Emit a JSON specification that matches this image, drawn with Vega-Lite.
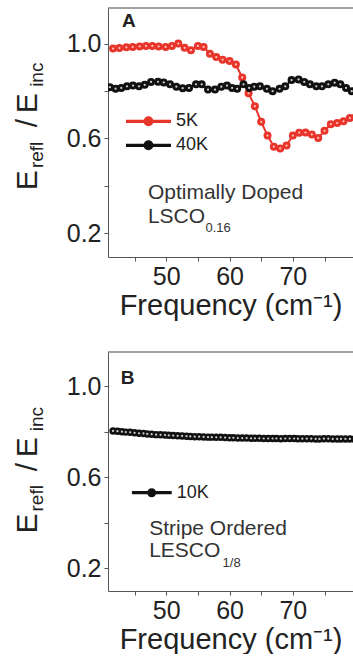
{
  "$schema": "https://vega.github.io/schema/vega-lite/v6.json",
  "padding": {"left": 13, "top": 7, "right": 0, "bottom": 0},
  "background": "white",
  "spacing": 31,
  "config": {
    "view": {"stroke": null},
    "font": "Liberation Sans",
    "axis": {
      "grid": false, "tickSize": 4, "tickColor": "#555", "domainColor": "#555",
      "labelColor": "#222", "labelFont": "Liberation Sans", "labelFontSize": 25,
      "labelPadding": 3, "labelFlush": false, "labelOverlap": false,
      "titleFont": "Liberation Sans", "titleFontSize": 29, "titleFontWeight": "normal", "titleColor": "#222"
    },
    "legend": {"labelFont": "Liberation Sans", "labelColor": "#222", "labelFontSize": 18, "padding": 0}
  },
  "resolve": {"scale": {"color": "independent"}, "legend": {"color": "independent"}},
  "vconcat": [
    {
      "width": 245, "height": 249,
      "layer": [
        {
          "data": {"name": "A"},
          "mark": {"type": "line", "strokeWidth": 2, "clip": true},
          "encoding": {
            "x": {"field": "f", "type": "quantitative", "scale": {"domain": [40.8, 79.5], "nice": false, "zero": false},
                  "axis": {"values": [45, 50, 55, 60, 65, 70, 75], "labelExpr": "datum.value % 10 == 0 ? datum.label : ''", "title": "Frequency (cm⁻¹)", "titlePadding": 2}},
            "y": {"field": "v", "type": "quantitative", "scale": {"domain": [0.1, 1.15], "nice": false, "zero": false},
                  "axis": {"values": [0.2, 0.3, 0.4, 0.5, 0.6, 0.7, 0.8, 0.9, 1.0, 1.1], "labelExpr": "indexof(['0.2','0.6','1.0'], format(datum.value, '.1f')) >= 0 ? format(datum.value, '.1f') : ''", "title": null}},
            "detail": {"field": "T"},
            "stroke": {"condition": {"test": "datum.T == '5K'", "value": "#e8352b"}, "value": "#111111"}
          }
        },
        {
          "data": {"name": "A"},
          "mark": {"type": "point", "filled": true, "size": 64, "opacity": 1, "clip": true},
          "encoding": {
            "x": {"field": "f", "type": "quantitative"},
            "y": {"field": "v", "type": "quantitative"},
            "color": {"field": "T", "type": "nominal", "scale": {"domain": ["5K", "40K"], "range": ["#e8352b", "#111111"]},
              "legend": {"title": null, "orient": "none", "legendX": 18, "legendY": 101.3, "rowPadding": 0, "clipHeight": 24, "labelOffset": 5,
                "symbolType": "M-1,-0.07H1V0.07H-1Z M0.22,0A0.22,0.22,0,1,1,-0.22,0A0.22,0.22,0,1,1,0.22,0Z",
                "symbolSize": 2025, "symbolStrokeWidth": 0,
                "encode": {"symbols": {"update": {"shape": {"value": "M-1,-0.07H1V0.07H-1Z M0.22,0A0.22,0.22,0,1,1,-0.22,0A0.22,0.22,0,1,1,0.22,0Z"}, "size": {"value": 2025}, "strokeWidth": {"value": 0}}}}}}
          }
        },
        {
          "data": {"name": "A"},
          "mark": {"type": "point", "filled": true, "size": 5, "opacity": 1, "clip": true},
          "encoding": {
            "x": {"field": "f", "type": "quantitative"},
            "y": {"field": "v", "type": "quantitative"},
            "fill": {"condition": {"test": "datum.T == '5K'", "value": "#ffc2ba"}, "value": "#cfcfcf"}
          }
        },
        {"data": {"values": [{}]}, "mark": {"type": "rule", "color": "#444", "strokeWidth": 1},
         "encoding": {"x": {"datum": 40.8, "type": "quantitative"}, "x2": {"datum": 79.5}, "y": {"datum": 1.15, "type": "quantitative"}}},
        {"data": {"values": [{}]}, "mark": {"type": "text", "text": "A", "align": "left", "baseline": "alphabetic", "fontSize": 19, "fontWeight": "bold", "color": "#222"},
         "encoding": {"x": {"datum": 43.0, "type": "quantitative"}, "y": {"datum": 1.07, "type": "quantitative"}}},
        {"data": {"values": [{}]}, "mark": {"type": "text", "text": "Optimally Doped", "align": "left", "baseline": "alphabetic", "fontSize": 21, "color": "#333"},
         "encoding": {"x": {"datum": 47.1, "type": "quantitative"}, "y": {"datum": 0.344, "type": "quantitative"}}},
        {"data": {"values": [{}]}, "mark": {"type": "text", "text": "LSCO", "align": "left", "baseline": "alphabetic", "fontSize": 21, "color": "#333"},
         "encoding": {"x": {"datum": 47.1, "type": "quantitative"}, "y": {"datum": 0.242, "type": "quantitative"}}},
        {"data": {"values": [{}]}, "mark": {"type": "text", "text": "0.16", "align": "left", "baseline": "alphabetic", "fontSize": 13, "color": "#333"},
         "encoding": {"x": {"datum": 56.2, "type": "quantitative"}, "y": {"datum": 0.206, "type": "quantitative"}}},
        {"data": {"values": [{}]}, "mark": {"type": "text", "text": "E", "align": "left", "baseline": "alphabetic", "angle": 270, "fontSize": 30, "color": "#222"},
         "encoding": {"x": {"datum": 29.6, "type": "quantitative"}, "y": {"datum": 0.382, "type": "quantitative"}}},
        {"data": {"values": [{}]}, "mark": {"type": "text", "text": "refl", "align": "left", "baseline": "alphabetic", "angle": 270, "fontSize": 19, "color": "#222"},
         "encoding": {"x": {"datum": 30.5, "type": "quantitative"}, "y": {"datum": 0.475, "type": "quantitative"}}},
        {"data": {"values": [{}]}, "mark": {"type": "text", "text": "/", "align": "left", "baseline": "alphabetic", "angle": 270, "fontSize": 30, "color": "#222"},
         "encoding": {"x": {"datum": 29.6, "type": "quantitative"}, "y": {"datum": 0.647, "type": "quantitative"}}},
        {"data": {"values": [{}]}, "mark": {"type": "text", "text": "E", "align": "left", "baseline": "alphabetic", "angle": 270, "fontSize": 30, "color": "#222"},
         "encoding": {"x": {"datum": 29.6, "type": "quantitative"}, "y": {"datum": 0.706, "type": "quantitative"}}},
        {"data": {"values": [{}]}, "mark": {"type": "text", "text": "inc", "align": "left", "baseline": "alphabetic", "angle": 270, "fontSize": 19, "color": "#222"},
         "encoding": {"x": {"datum": 30.5, "type": "quantitative"}, "y": {"datum": 0.8175, "type": "quantitative"}}}
      ]
    },
    {
      "width": 245, "height": 239,
      "layer": [
        {
          "data": {"name": "B"},
          "mark": {"type": "line", "strokeWidth": 2, "clip": true, "color": "#111111"},
          "encoding": {
            "x": {"field": "f", "type": "quantitative", "scale": {"domain": [40.8, 79.5], "nice": false, "zero": false},
                  "axis": {"values": [45, 50, 55, 60, 65, 70, 75], "labelExpr": "datum.value % 10 == 0 ? datum.label : ''", "title": "Frequency (cm⁻¹)", "titlePadding": 2}},
            "y": {"field": "v", "type": "quantitative", "scale": {"domain": [0.1, 1.15], "nice": false, "zero": false},
                  "axis": {"values": [0.2, 0.3, 0.4, 0.5, 0.6, 0.7, 0.8, 0.9, 1.0, 1.1], "labelExpr": "indexof(['0.2','0.6','1.0'], format(datum.value, '.1f')) >= 0 ? format(datum.value, '.1f') : ''", "title": null}}
          }
        },
        {
          "data": {"name": "B"},
          "mark": {"type": "point", "filled": true, "size": 56, "opacity": 1, "clip": true},
          "encoding": {
            "x": {"field": "f", "type": "quantitative"},
            "y": {"field": "v", "type": "quantitative"},
            "color": {"field": "T", "type": "nominal", "scale": {"domain": ["10K"], "range": ["#111111"]},
              "legend": {"title": null, "orient": "none", "legendX": 23.7, "legendY": 128.7, "rowPadding": 0, "clipHeight": 24, "labelOffset": 5,
                "symbolType": "M-1,-0.08H1V0.08H-1Z M0.225,0A0.225,0.225,0,1,1,-0.225,0A0.225,0.225,0,1,1,0.225,0Z",
                "symbolSize": 1600, "symbolStrokeWidth": 0,
                "encode": {"symbols": {"update": {"shape": {"value": "M-1,-0.08H1V0.08H-1Z M0.225,0A0.225,0.225,0,1,1,-0.225,0A0.225,0.225,0,1,1,0.225,0Z"}, "size": {"value": 1600}, "strokeWidth": {"value": 0}}}}}}
          }
        },
        {
          "data": {"name": "B"},
          "mark": {"type": "point", "filled": true, "size": 5, "opacity": 1, "clip": true, "color": "#cfcfcf"},
          "encoding": {
            "x": {"field": "f", "type": "quantitative"},
            "y": {"field": "v", "type": "quantitative"}
          }
        },
        {"data": {"values": [{}]}, "mark": {"type": "rule", "color": "#444", "strokeWidth": 1},
         "encoding": {"x": {"datum": 40.8, "type": "quantitative"}, "x2": {"datum": 79.5}, "y": {"datum": 1.15, "type": "quantitative"}}},
        {"data": {"values": [{}]}, "mark": {"type": "text", "text": "B", "align": "left", "baseline": "alphabetic", "fontSize": 19, "fontWeight": "bold", "color": "#222"},
         "encoding": {"x": {"datum": 42.8, "type": "quantitative"}, "y": {"datum": 1.011, "type": "quantitative"}}},
        {"data": {"values": [{}]}, "mark": {"type": "text", "text": "Stripe Ordered", "align": "left", "baseline": "alphabetic", "fontSize": 21, "color": "#333"},
         "encoding": {"x": {"datum": 47.3, "type": "quantitative"}, "y": {"datum": 0.346, "type": "quantitative"}}},
        {"data": {"values": [{}]}, "mark": {"type": "text", "text": "LESCO", "align": "left", "baseline": "alphabetic", "fontSize": 21, "color": "#333"},
         "encoding": {"x": {"datum": 47.3, "type": "quantitative"}, "y": {"datum": 0.248, "type": "quantitative"}}},
        {"data": {"values": [{}]}, "mark": {"type": "text", "text": "1/8", "align": "left", "baseline": "alphabetic", "fontSize": 13, "color": "#333"},
         "encoding": {"x": {"datum": 58.9, "type": "quantitative"}, "y": {"datum": 0.204, "type": "quantitative"}}},
        {"data": {"values": [{}]}, "mark": {"type": "text", "text": "E", "align": "left", "baseline": "alphabetic", "angle": 270, "fontSize": 30, "color": "#222"},
         "encoding": {"x": {"datum": 29.6, "type": "quantitative"}, "y": {"datum": 0.3524, "type": "quantitative"}}},
        {"data": {"values": [{}]}, "mark": {"type": "text", "text": "refl", "align": "left", "baseline": "alphabetic", "angle": 270, "fontSize": 19, "color": "#222"},
         "encoding": {"x": {"datum": 30.5, "type": "quantitative"}, "y": {"datum": 0.4493, "type": "quantitative"}}},
        {"data": {"values": [{}]}, "mark": {"type": "text", "text": "/", "align": "left", "baseline": "alphabetic", "angle": 270, "fontSize": 30, "color": "#222"},
         "encoding": {"x": {"datum": 29.6, "type": "quantitative"}, "y": {"datum": 0.6256, "type": "quantitative"}}},
        {"data": {"values": [{}]}, "mark": {"type": "text", "text": "E", "align": "left", "baseline": "alphabetic", "angle": 270, "fontSize": 30, "color": "#222"},
         "encoding": {"x": {"datum": 29.6, "type": "quantitative"}, "y": {"datum": 0.6872, "type": "quantitative"}}},
        {"data": {"values": [{}]}, "mark": {"type": "text", "text": "inc", "align": "left", "baseline": "alphabetic", "angle": 270, "fontSize": 19, "color": "#222"},
         "encoding": {"x": {"datum": 30.5, "type": "quantitative"}, "y": {"datum": 0.8018, "type": "quantitative"}}}
      ]
    }
  ],
  "datasets": {
    "A": [
      {"T": "5K", "f": 41.6, "v": 0.979}, {"T": "5K", "f": 42.6, "v": 0.981}, {"T": "5K", "f": 43.7, "v": 0.984},
      {"T": "5K", "f": 44.7, "v": 0.986}, {"T": "5K", "f": 45.8, "v": 0.988}, {"T": "5K", "f": 46.8, "v": 0.99},
      {"T": "5K", "f": 47.8, "v": 0.99}, {"T": "5K", "f": 48.8, "v": 0.988}, {"T": "5K", "f": 49.9, "v": 0.986},
      {"T": "5K", "f": 50.9, "v": 0.99}, {"T": "5K", "f": 51.9, "v": 1.0}, {"T": "5K", "f": 52.9, "v": 0.982},
      {"T": "5K", "f": 53.9, "v": 0.972}, {"T": "5K", "f": 55.0, "v": 0.99}, {"T": "5K", "f": 55.9, "v": 0.986},
      {"T": "5K", "f": 56.9, "v": 0.957}, {"T": "5K", "f": 57.9, "v": 0.943}, {"T": "5K", "f": 58.9, "v": 0.932},
      {"T": "5K", "f": 60.0, "v": 0.926}, {"T": "5K", "f": 61.0, "v": 0.912}, {"T": "5K", "f": 62.0, "v": 0.857},
      {"T": "5K", "f": 63.0, "v": 0.79}, {"T": "5K", "f": 64.0, "v": 0.736}, {"T": "5K", "f": 65.0, "v": 0.67},
      {"T": "5K", "f": 66.0, "v": 0.612}, {"T": "5K", "f": 67.0, "v": 0.565}, {"T": "5K", "f": 68.0, "v": 0.558},
      {"T": "5K", "f": 69.0, "v": 0.57}, {"T": "5K", "f": 70.0, "v": 0.612}, {"T": "5K", "f": 71.0, "v": 0.624},
      {"T": "5K", "f": 72.0, "v": 0.625}, {"T": "5K", "f": 73.0, "v": 0.617}, {"T": "5K", "f": 74.0, "v": 0.602},
      {"T": "5K", "f": 75.0, "v": 0.632}, {"T": "5K", "f": 76.0, "v": 0.66}, {"T": "5K", "f": 77.0, "v": 0.665},
      {"T": "5K", "f": 78.0, "v": 0.672}, {"T": "5K", "f": 79.0, "v": 0.686}, {"T": "5K", "f": 79.9, "v": 0.69},
      {"T": "40K", "f": 41.1, "v": 0.816}, {"T": "40K", "f": 42.0, "v": 0.81}, {"T": "40K", "f": 42.9, "v": 0.813},
      {"T": "40K", "f": 43.8, "v": 0.82}, {"T": "40K", "f": 44.75, "v": 0.823}, {"T": "40K", "f": 45.7, "v": 0.82},
      {"T": "40K", "f": 46.6, "v": 0.826}, {"T": "40K", "f": 47.6, "v": 0.838}, {"T": "40K", "f": 48.7, "v": 0.839},
      {"T": "40K", "f": 49.6, "v": 0.836}, {"T": "40K", "f": 50.6, "v": 0.828}, {"T": "40K", "f": 51.6, "v": 0.818},
      {"T": "40K", "f": 52.6, "v": 0.812}, {"T": "40K", "f": 53.6, "v": 0.813}, {"T": "40K", "f": 54.7, "v": 0.828},
      {"T": "40K", "f": 55.6, "v": 0.828}, {"T": "40K", "f": 56.6, "v": 0.806}, {"T": "40K", "f": 57.7, "v": 0.806},
      {"T": "40K", "f": 58.7, "v": 0.818}, {"T": "40K", "f": 59.6, "v": 0.823}, {"T": "40K", "f": 60.4, "v": 0.813},
      {"T": "40K", "f": 61.2, "v": 0.809}, {"T": "40K", "f": 62.2, "v": 0.828}, {"T": "40K", "f": 63.1, "v": 0.813},
      {"T": "40K", "f": 63.9, "v": 0.818}, {"T": "40K", "f": 64.8, "v": 0.82}, {"T": "40K", "f": 65.9, "v": 0.809},
      {"T": "40K", "f": 66.8, "v": 0.799}, {"T": "40K", "f": 67.9, "v": 0.809}, {"T": "40K", "f": 68.8, "v": 0.82},
      {"T": "40K", "f": 69.8, "v": 0.846}, {"T": "40K", "f": 70.9, "v": 0.849}, {"T": "40K", "f": 71.8, "v": 0.838},
      {"T": "40K", "f": 72.7, "v": 0.828}, {"T": "40K", "f": 73.7, "v": 0.82}, {"T": "40K", "f": 74.6, "v": 0.82},
      {"T": "40K", "f": 75.6, "v": 0.828}, {"T": "40K", "f": 76.6, "v": 0.835}, {"T": "40K", "f": 77.5, "v": 0.828},
      {"T": "40K", "f": 78.4, "v": 0.813}, {"T": "40K", "f": 79.3, "v": 0.799}
    ],
    "B": [
      {"T": "10K", "f": 41.6, "v": 0.803}, {"T": "10K", "f": 42.3, "v": 0.802}, {"T": "10K", "f": 43.0, "v": 0.8},
      {"T": "10K", "f": 43.6, "v": 0.798}, {"T": "10K", "f": 44.3, "v": 0.797}, {"T": "10K", "f": 45.0, "v": 0.795},
      {"T": "10K", "f": 45.7, "v": 0.793}, {"T": "10K", "f": 46.4, "v": 0.792}, {"T": "10K", "f": 47.0, "v": 0.79},
      {"T": "10K", "f": 47.7, "v": 0.789}, {"T": "10K", "f": 48.4, "v": 0.787}, {"T": "10K", "f": 49.1, "v": 0.786},
      {"T": "10K", "f": 49.8, "v": 0.785}, {"T": "10K", "f": 50.4, "v": 0.784}, {"T": "10K", "f": 51.1, "v": 0.783},
      {"T": "10K", "f": 51.8, "v": 0.782}, {"T": "10K", "f": 52.5, "v": 0.781}, {"T": "10K", "f": 53.2, "v": 0.78},
      {"T": "10K", "f": 53.8, "v": 0.779}, {"T": "10K", "f": 54.5, "v": 0.778}, {"T": "10K", "f": 55.2, "v": 0.778},
      {"T": "10K", "f": 55.9, "v": 0.777}, {"T": "10K", "f": 56.6, "v": 0.776}, {"T": "10K", "f": 57.2, "v": 0.776},
      {"T": "10K", "f": 57.9, "v": 0.775}, {"T": "10K", "f": 58.6, "v": 0.775}, {"T": "10K", "f": 59.3, "v": 0.774},
      {"T": "10K", "f": 60.0, "v": 0.773}, {"T": "10K", "f": 60.6, "v": 0.773}, {"T": "10K", "f": 61.3, "v": 0.772},
      {"T": "10K", "f": 62.0, "v": 0.772}, {"T": "10K", "f": 62.7, "v": 0.772}, {"T": "10K", "f": 63.4, "v": 0.771},
      {"T": "10K", "f": 64.0, "v": 0.771}, {"T": "10K", "f": 64.7, "v": 0.771}, {"T": "10K", "f": 65.4, "v": 0.77},
      {"T": "10K", "f": 66.1, "v": 0.77}, {"T": "10K", "f": 66.8, "v": 0.77}, {"T": "10K", "f": 67.4, "v": 0.77},
      {"T": "10K", "f": 68.1, "v": 0.769}, {"T": "10K", "f": 68.8, "v": 0.77}, {"T": "10K", "f": 69.5, "v": 0.77},
      {"T": "10K", "f": 70.2, "v": 0.77}, {"T": "10K", "f": 70.8, "v": 0.769}, {"T": "10K", "f": 71.5, "v": 0.769},
      {"T": "10K", "f": 72.2, "v": 0.769}, {"T": "10K", "f": 72.9, "v": 0.769}, {"T": "10K", "f": 73.6, "v": 0.768},
      {"T": "10K", "f": 74.2, "v": 0.768}, {"T": "10K", "f": 74.9, "v": 0.769}, {"T": "10K", "f": 75.6, "v": 0.769},
      {"T": "10K", "f": 76.3, "v": 0.768}, {"T": "10K", "f": 77.0, "v": 0.768}, {"T": "10K", "f": 77.6, "v": 0.768},
      {"T": "10K", "f": 78.3, "v": 0.768}, {"T": "10K", "f": 79.0, "v": 0.768}, {"T": "10K", "f": 79.7, "v": 0.767}
    ]
  }
}
